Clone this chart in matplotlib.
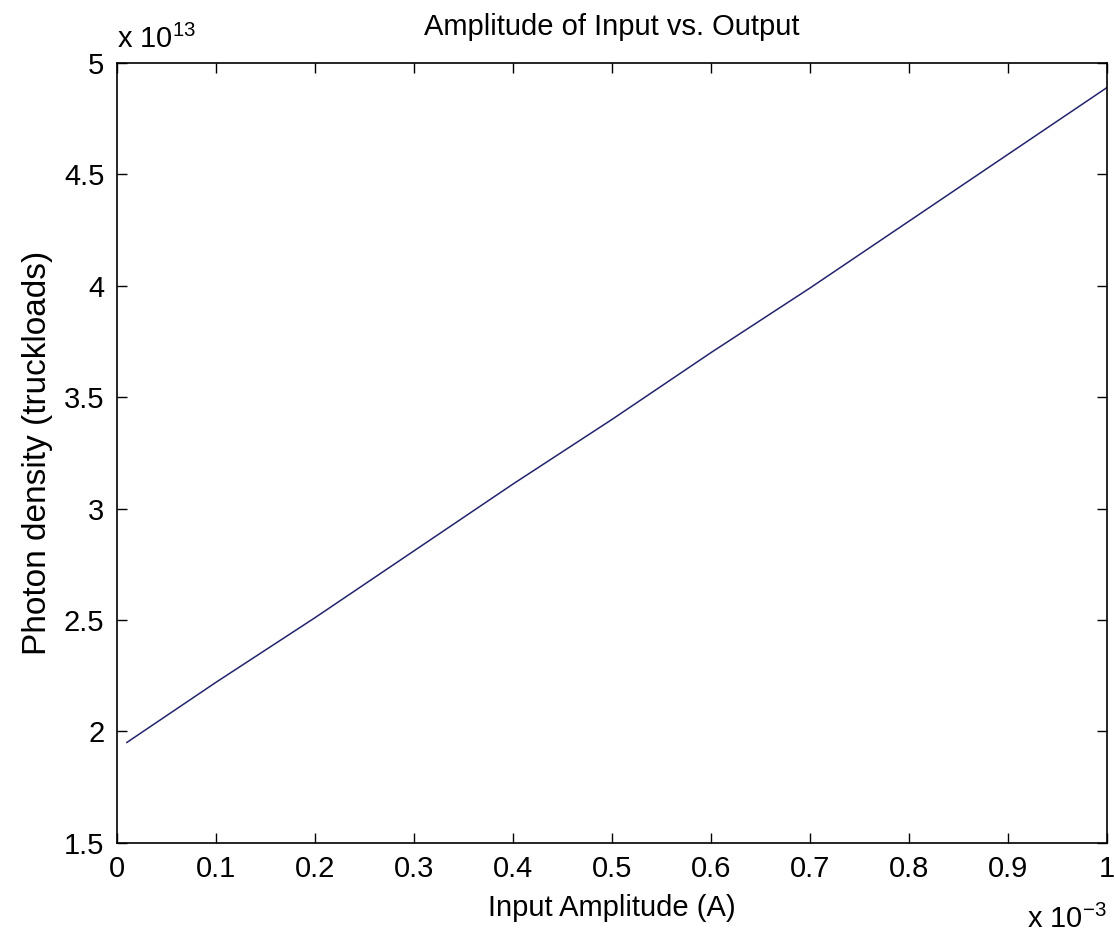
import matplotlib
matplotlib.use("Agg")
import matplotlib.pyplot as plt
import numpy as np
from matplotlib.ticker import FuncFormatter

# values (x in mA, y in 1e13 truckloads)
input_amp_ma = [0.01, 0.1, 0.2, 0.3, 0.4, 0.5, 0.6, 0.7, 0.8, 0.9, 1.0]
photon_density_e13 = [1.95, 2.22, 2.51, 2.81, 3.11, 3.40, 3.70, 3.99, 4.29, 4.59, 4.89]

x_ticks_ma = [0, 0.1, 0.2, 0.3, 0.4, 0.5, 0.6, 0.7, 0.8, 0.9, 1.0]
y_ticks_e13 = [1.5, 2, 2.5, 3, 3.5, 4, 4.5, 5]

plt.rcParams["font.family"] = ["Liberation Sans", "DejaVu Sans"]
plt.rcParams["mathtext.default"] = "regular"
fs = 21

x = np.array(input_amp_ma) * 1e-3
y = np.array(photon_density_e13) * 1e13

fig = plt.figure(figsize=(11.15, 9.38), dpi=100)
ax = fig.add_axes([0.1049, 0.1016, 0.8879, 0.8312])

ax.plot(x, y, color="#23236e", linewidth=1.1)

ax.set_xlim(0, 1e-3)
ax.set_ylim(1.5e13, 5e13)
ax.set_xticks(np.array(x_ticks_ma) * 1e-3)
ax.set_yticks(np.array(y_ticks_e13) * 1e13)
ax.xaxis.set_major_formatter(FuncFormatter(lambda v, p: "%g" % round(v * 1e3, 6)))
ax.yaxis.set_major_formatter(FuncFormatter(lambda v, p: "%g" % round(v / 1e13, 6)))

ax.tick_params(direction="in", length=7, width=1, top=True, right=True,
               labelsize=fs, pad=9)
for s in ax.spines.values():
    s.set_linewidth(1.2)

ax.set_title("Amplitude of Input vs. Output", fontsize=fs, pad=20)
ax.set_xlabel("Input Amplitude (A)", fontsize=fs, labelpad=8)
ax.set_ylabel("Photon density (truckloads)", fontsize=24, labelpad=8)

# MATLAB-style exponent labels
ax.text(0.0, 1.012, r"x 10$^{13}$", transform=ax.transAxes, fontsize=fs,
        ha="left", va="bottom")
ax.text(1.0, -0.08, r"x 10$^{-3}$", transform=ax.transAxes, fontsize=fs,
        ha="right", va="top")

plt.savefig("out.png", dpi=100)
